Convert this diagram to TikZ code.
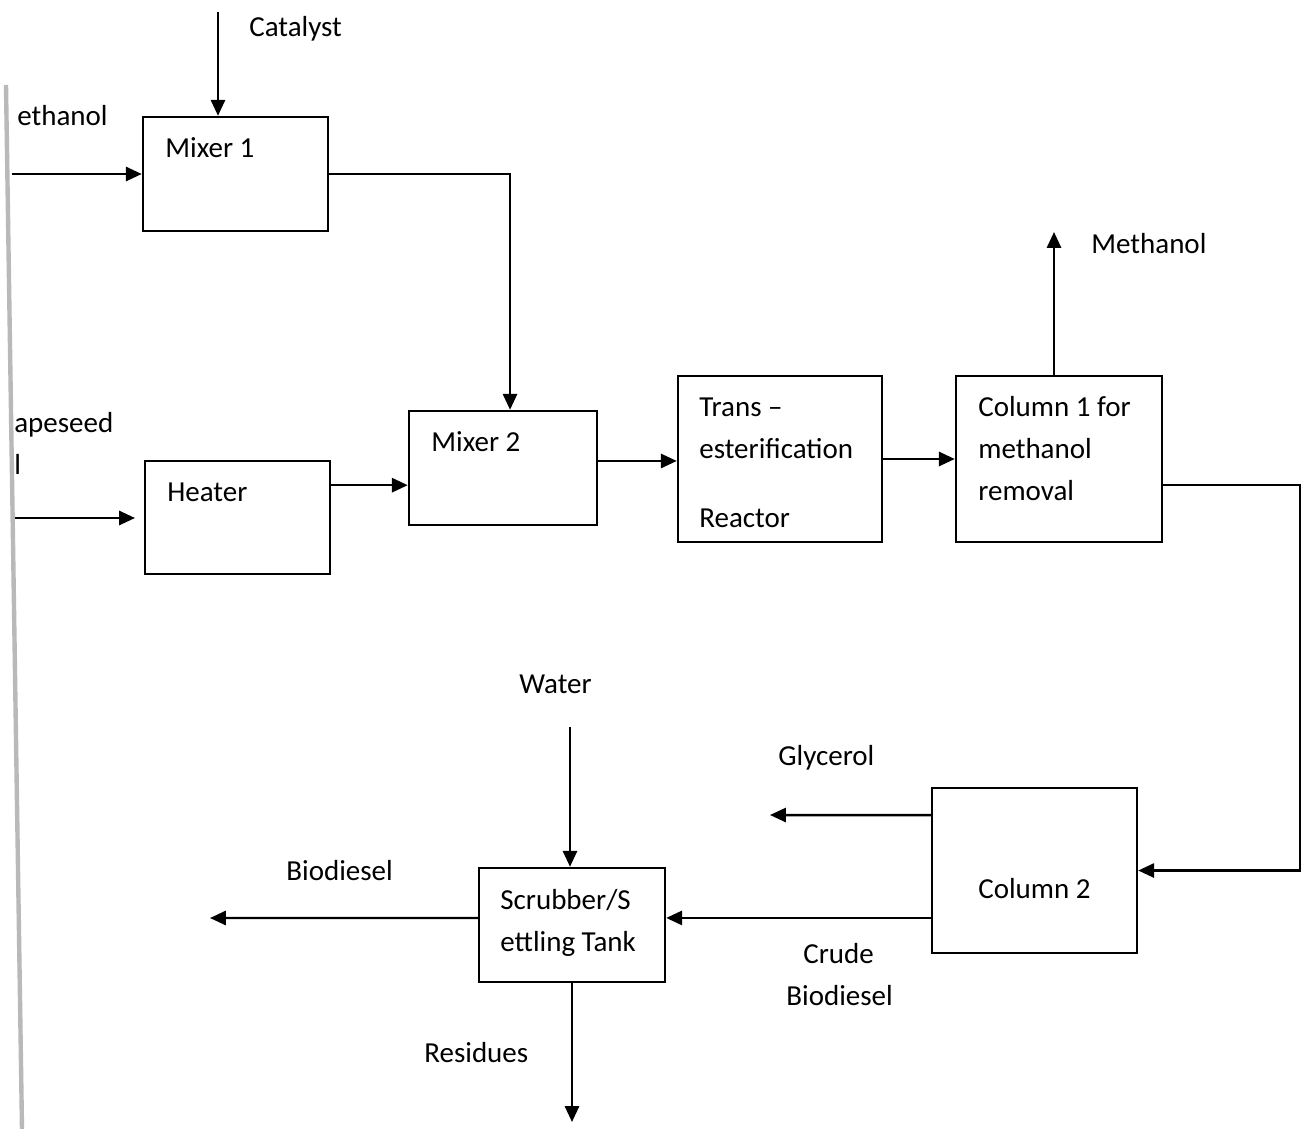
\documentclass[tikz,border=0pt]{standalone}
\usepackage{fontspec}
\setmainfont{Carlito}
\usetikzlibrary{arrows.meta, positioning}

\tikzset{
  unit/.style={draw, line width=1.4pt, rectangle, inner sep=0pt},
  lbl/.style={inner sep=0pt, anchor=west, text height=2ex, text depth=0.6ex, yshift=-2.3pt},
  arr/.style={line width=1.4pt, -{Triangle[length=9pt, width=8pt]}}
}

\begin{document}
\begin{tikzpicture}[x=0.02cm, y=-0.02cm, font=\fontsize{16.5}{20}\selectfont]
        \useasboundingbox (0,0) rectangle (1305,1129);

        % Scanned page edge
        \draw[gray!55, line width=2.5pt] (6,85) -- (22,1129);

        % Units
        \node[unit, minimum width=3.70cm, minimum height=2.28cm] (mixA) at (235.5,174) {};
        \node[unit, minimum width=3.70cm, minimum height=2.26cm] (heat) at (237.5,517.5) {};
        \node[unit, minimum width=3.76cm, minimum height=2.28cm] (mixB) at (503,468) {};
        \node[unit, minimum width=4.08cm, minimum height=3.32cm] (reac) at (780,459) {};
        \node[unit, minimum width=4.12cm, minimum height=3.32cm] (colA) at (1059,459) {};
        \node[unit, minimum width=4.10cm, minimum height=3.30cm] (colB) at (1034.5,870.5) {};
        \node[unit, minimum width=3.72cm, minimum height=2.28cm] (scrub) at (572,925) {};

        % Unit labels
        \node[lbl] (mixAtxt) at (165,148) {Mixer 1};
        \node[lbl] (heattxt) at (167,492) {Heater};
        \node[lbl] (mixBtxt) at (431,442) {Mixer 2};
        \node[lbl] (reactxtA) at (699,407) {Trans --};
        \node[lbl] (reactxtB) at (699,449) {esterification};
        \node[lbl] (reactxtC) at (699,518) {Reactor};
        \node[lbl] (colAtxtA) at (978,407) {Column 1 for};
        \node[lbl] (colAtxtB) at (978,449) {methanol};
        \node[lbl] (colAtxtC) at (978,491) {removal};
        \node[lbl] (colBtxt) at (978,889) {Column 2};
        \node[lbl] (scrubtxtA) at (500,900) {Scrubber/S};
        \node[lbl] (scrubtxtB) at (500,942) {ettling Tank};

        % Free ends of streams
        \coordinate (catIn) at (218,12);
        \coordinate (meIn) at (12,174);
        \coordinate (rapeIn) at (15,518);
        \coordinate (meOut) at (1054,232);
        \coordinate (rt) at (1300,680);
        \coordinate (glyOut) at (770,815);
        \coordinate (wIn) at (570,727);
        \coordinate (bioOut) at (210,918);
        \coordinate (resOut) at (572,1122);

        % Streams
        \draw[arr] (catIn) -- (catIn |- mixA.north);
        \draw[arr] (meIn) -- (mixA.west);
        \draw[arr, shorten >=5pt] (rapeIn) -- (rapeIn -| heat.west);
        \draw[arr] (mixA.east) -| ([xshift=4pt]mixB.north);
        \draw[arr] ([yshift=18.4pt]heat.east) -- ([yshift=18.4pt]heat.east -| mixB.west);
        \draw[arr] ([yshift=4pt]mixB.east) -- ([yshift=4pt]mixB.east -| reac.west);
        \draw[arr] (reac.east) -- (colA.west);
        \draw[arr] (colA.north -| meOut) -- (meOut);
        \draw[arr] ([yshift=-14.7pt]colA.east) -| (rt) |- (colB.east);
        \draw[arr] ([yshift=31.5pt]colB.west) -- (glyOut);
        \draw[arr] ([yshift=-27pt]colB.west) -- ([yshift=-27pt]colB.west -| scrub.east);
        \draw[arr] (wIn) -- (wIn |- scrub.north);
        \draw[arr] ([yshift=4pt]scrub.west) -- (bioOut);
        \draw[arr] (scrub.south) -- (resOut);

        % Stream labels
        \node[lbl] (cattxt) at (249,27) {Catalyst};
        \node[lbl] (meIntxt) at (17,116) {ethanol};
        \node[lbl] (rapetxtA) at (14,423) {apeseed};
        \node[lbl] (rapetxtB) at (14,465) {l};
        \node[lbl] (meOuttxt) at (1091,244) {Methanol};
        \node[lbl] (wtxt) at (519,684) {Water};
        \node[lbl] (glytxt) at (778,756) {Glycerol};
        \node[lbl] (biotxt) at (286,871) {Biodiesel};
        \node[lbl] (crudetxtA) at (803,954) {Crude};
        \node[lbl] (crudetxtB) at (786,996) {Biodiesel};
        \node[lbl] (restxt) at (424,1053) {Residues};
\end{tikzpicture}
\end{document}
